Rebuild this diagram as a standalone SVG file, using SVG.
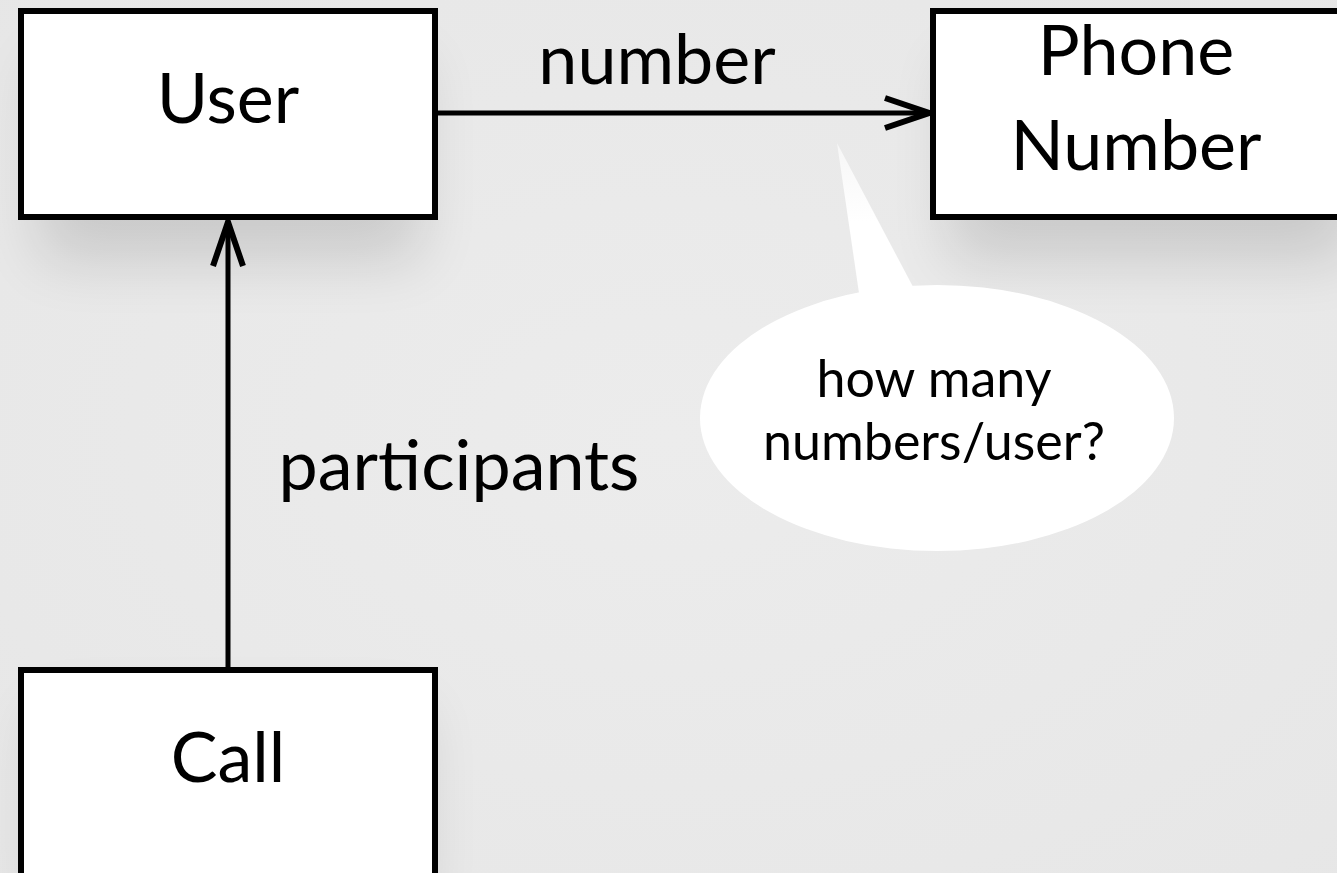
<svg xmlns="http://www.w3.org/2000/svg" width="1337" height="873" viewBox="0 0 1337 873">
<defs>
<style>
.box{fill:#fff;stroke:#000;stroke-width:6}
.lbl{font-family:Lato,"Noto Sans",sans-serif;font-size:70px;fill:#000;text-anchor:middle}
.edge{stroke:#000;stroke-width:5;fill:none}
.note{font-family:Lato,"Noto Sans",sans-serif;font-size:52px;fill:#000;text-anchor:middle}
</style>
<filter id="sh" x="-30%" y="-30%" width="160%" height="180%">
<feGaussianBlur stdDeviation="30"/>
</filter>
<radialGradient id="bg" cx="0.5" cy="0.5" r="0.8">
<stop offset="0" stop-color="#ececec"/>
<stop offset="1" stop-color="#e6e6e6"/>
</radialGradient>
<linearGradient id="bub" x1="0" y1="0" x2="0" y2="1">
<stop offset="0" stop-color="#f6f6f6"/>
<stop offset="0.5" stop-color="#ffffff"/>
<stop offset="1" stop-color="#ffffff"/>
</linearGradient>
<marker id="arr" viewBox="0 0 50 36" refX="48" refY="18" markerWidth="50" markerHeight="36" markerUnits="userSpaceOnUse" orient="auto">
<path d="M3,3 L47,18 L3,33" fill="none" stroke="#000" stroke-width="6"/>
</marker>
</defs>
<rect width="1337" height="873" fill="url(#bg)"/>
<g id="shadows" fill="#000" opacity="0.13" filter="url(#sh)">
<rect x="40" y="60" width="380" height="200"/>
<rect x="950" y="60" width="400" height="200"/>
<rect x="40" y="710" width="380" height="200"/>
</g>
<g id="connectors">
<line class="edge" x1="438" y1="113" x2="930" y2="113" marker-end="url(#arr)"/>
<line class="edge" x1="228" y1="667" x2="228" y2="221" marker-end="url(#arr)"/>
<text class="lbl" x="657" y="84">number</text>
<text class="lbl" x="459" y="490">participants</text>
</g>
<g id="user">
<rect class="box" x="21" y="11" width="414" height="206"/>
<text class="lbl" x="228" y="123">User</text>
</g>
<g id="phone">
<rect class="box" x="933" y="11" width="420" height="206"/>
<text class="lbl" x="1136" y="75">Phone</text>
<text class="lbl" x="1136" y="170">Number</text>
</g>
<g id="call">
<rect class="box" x="21" y="670" width="414" height="220"/>
<text class="lbl" x="228" y="782">Call</text>
</g>
<g id="note">
<ellipse cx="937" cy="418" rx="237" ry="133" fill="#fff"/>
<path d="M837,143 L920,300 L860,300 Z" fill="url(#bub)"/>
<text class="note" x="934" y="397">how many</text>
<text class="note" x="934" y="460">numbers/user?</text>
</g>
</svg>
